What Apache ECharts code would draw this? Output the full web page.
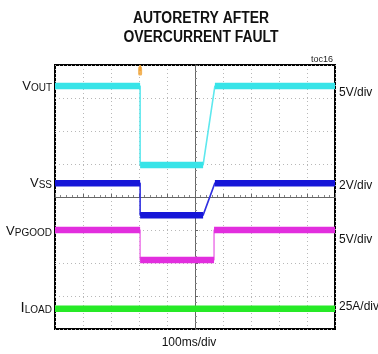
<!DOCTYPE html>
<html><head><meta charset="utf-8">
<script src="https://cdn.jsdelivr.net/npm/echarts@6/dist/echarts.min.js"></script>
<style>html,body{margin:0;padding:0;background:#fff}#c{width:378px;height:354px}</style>
</head><body><div id="c"></div>
<script>
// time in ms (100 ms/div), level in screen divisions (0..8 from bottom)
const vout = [[0,7.36],[304,7.36],[304,4.97],[529,4.97],[571,7.36],[1000,7.36]];
const vss = [[0,4.42],[304,4.42],[304,3.45],[529,3.45],[571,4.42],[1000,4.42]];
const vpgood = [[0,3.0],[304,3.0],[304,2.09],[568,2.09],[568,3.0],[1000,3.0]];
const iload = [[0,0.61],[1000,0.61]];
const traceNames = ['V_OUT','V_SS','V_PGOOD','I_LOAD'];
const scaleLabels = ['5V/div','2V/div','5V/div','25A/div'];
const xTitle = '100ms/div';

const colors = ['#38e4e8','#1616d8','#e22ede','#26ea26'];
const thinColors = ['#5ee8ee','#3030e0','#ee80ea','#26ea26'];
const traces = [vout, vss, vpgood, iload];

function flatSegments(tr){
  const out=[];
  for(let i=0;i<tr.length-1;i++){
    if(tr[i][1]===tr[i+1][1] && tr[i][0]!==tr[i+1][0]){
      if(out.length) out.push([tr[i][0],null]);
      out.push(tr[i], tr[i+1]);
    }
  }
  return out;
}
const series=[];
traces.forEach((tr,i)=>{
  series.push({type:'line',data:tr,symbol:'none',lineStyle:{color:thinColors[i],width:1.6},z:2,animation:false});
  series.push({type:'line',data:flatSegments(tr),symbol:'none',connectNulls:false,lineStyle:{color:colors[i],width:6.5,cap:'butt'},z:3,animation:false});
});
// trigger marker
series.push({type:'scatter',data:[[304,7.82]],symbol:'roundRect',symbolSize:[4,9],itemStyle:{color:'#f0a030'},z:4,animation:false});
series.push({type:'line',data:[[304,8],[304,7.82]],symbol:'none',lineStyle:{color:'#f0a030',width:1.5},z:4,animation:false});

const chart = echarts.init(document.getElementById('c'),null,{renderer:'canvas'});
const gl=55, gt=65, gw=280, gh=264;
const labY=[86,183,231,308];
const graphics=[
  {type:'text',x:201,y:9,scaleX:0.87,style:{text:'AUTORETRY AFTER\nOVERCURRENT FAULT',font:'bold 16px "Liberation Sans", Arial',fill:'#111',textAlign:'center',lineHeight:19}},
  {type:'text',right:378-333,top:55,style:{text:'toc16',font:'9px "Liberation Sans", Arial',fill:'#222'}},
  {type:'text',left:'center',top:337,style:{text:xTitle,font:'12px "Liberation Sans", Arial',fill:'#111'}}
];
traceNames.forEach((n,i)=>{
  const [a,b]=n.split('_');
  graphics.push({type:'text',x:52,y:labY[i],style:{
    text:'{v|'+a+'}{s|'+b+'}',textAlign:'right',textVerticalAlign:'middle',
    rich:{v:{font:(a==='I'?'15px':'13px')+' "Liberation Sans", Arial',fill:'#111',verticalAlign:'bottom',lineHeight:14},
          s:{font:'10px "Liberation Sans", Arial',fill:'#111',verticalAlign:'bottom',lineHeight:10,padding:[0,0,0,0]}}}});
  graphics.push({type:'text',x:339,y:[93,186,240,307][i],style:{text:scaleLabels[i],font:'12px "Liberation Sans", Arial',fill:'#111',textVerticalAlign:'middle'}});
});

chart.setOption({
  animation:false,
  grid:{left:gl,top:gt,width:gw,height:gh,show:true,borderColor:'#000',borderWidth:2,backgroundColor:'#fff'},
  xAxis:[
    {type:'value',min:0,max:1000,interval:100,axisLine:{show:false},axisTick:{show:false},axisLabel:{show:false},
     splitLine:{show:true,lineStyle:{color:'#b8b8b8',type:[1,3],width:1}}},
    {type:'value',min:0,max:1000,interval:100,position:'bottom',offset:-132,axisLine:{show:true,onZero:false,lineStyle:{color:'#666',width:1}},
     axisTick:{show:true,length:3,inside:true,lineStyle:{color:'#666'}},minorTick:{show:true,splitNumber:5,length:2,lineStyle:{color:'#888'}},axisLabel:{show:false},splitLine:{show:false}}
  ],
  yAxis:[
    {type:'value',min:0,max:8,interval:1,axisLine:{show:false},axisTick:{show:false},axisLabel:{show:false},
     splitLine:{show:true,lineStyle:{color:'#b8b8b8',type:[1,3],width:1}}},
    {type:'value',min:0,max:8,interval:1,position:'left',offset:-140,axisLine:{show:true,onZero:false,lineStyle:{color:'#666',width:1}},
     axisTick:{show:true,length:3,inside:true,lineStyle:{color:'#666'}},minorTick:{show:true,splitNumber:5,length:2,lineStyle:{color:'#888'}},axisLabel:{show:false},splitLine:{show:false}}
  ],
  series:series,
  graphic:graphics
});
</script></body></html>
